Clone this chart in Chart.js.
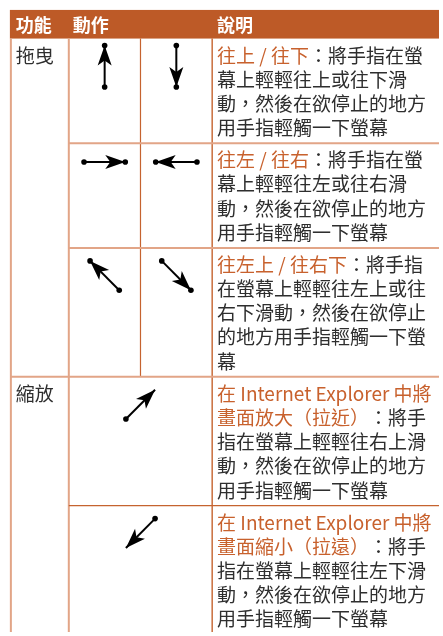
<!DOCTYPE html>
<html>
<head>
<meta charset="utf-8">
<script src="https://cdn.jsdelivr.net/npm/chart.js@4.4.1/dist/chart.umd.min.js"></script>
<style>
  html, body { margin: 0; padding: 0; background: #fff; }
  canvas { display: block; }
</style>
</head>
<body>
<canvas id="gestureTable" width="443" height="636"></canvas>
<script>
// Tiêu đề cột
const headers = ["功能", "動作", "說明"];

// Cột "功能" (gộp nhiều hàng)
const functionNames = ["拖曳", "縮放"];
const functionRowSpan = [3, 2];

// Hướng mũi tên của từng hàng (1 hoặc 2 ô)
const gestureDirs = [
  ["up", "down"],
  ["right", "left"],
  ["upLeft", "downRight"],
  ["upRight"],
  ["downLeft"],
];
const gestureDotAtTip = [true, true, true, false, false];

// Phần chữ màu cam (tiêu đề mô tả)
const titles = [
  "往上 / 往下",
  "往左 / 往右",
  "往左上 / 往右下",
  "在 Internet Explorer 中將畫面放大（拉近）",
  "在 Internet Explorer 中將畫面縮小（拉遠）",
];

// Mô tả, đã ngắt dòng như bản gốc
const descLines = [
  ["往上 / 往下：將手指在螢", "幕上輕輕往上或往下滑", "動，然後在欲停止的地方", "用手指輕觸一下螢幕"],
  ["往左 / 往右：將手指在螢", "幕上輕輕往左或往右滑", "動，然後在欲停止的地方", "用手指輕觸一下螢幕"],
  ["往左上 / 往右下：將手指", "在螢幕上輕輕往左上或往", "右下滑動，然後在欲停止", "的地方用手指輕觸一下螢", "幕"],
  ["在 Internet Explorer 中將", "畫面放大（拉近）：將手", "指在螢幕上輕輕往右上滑", "動，然後在欲停止的地方", "用手指輕觸一下螢幕"],
  ["在 Internet Explorer 中將", "畫面縮小（拉遠）：將手", "指在螢幕上輕輕往左下滑", "動，然後在欲停止的地方", "用手指輕觸一下螢幕"],
];

// ---- Bố cục ----
const W = 443, H = 636;
const colEdges = [7, 66, 139, 212, W];
const headerTop = 6, headerBottom = 35;
const lineH = 24.5;
const rowEdges = [headerBottom];
descLines.forEach((lines) => {
  rowEdges.push(rowEdges[rowEdges.length - 1] + lines.length * lineH + 8);
});

const COLORS = {
  header: "#bd5a27",
  orange: "#c8612d",
  text: "#2e2e2e",
  lineLight: "#e2a587",
  lineDark: "#c5632f",
};
const BODY_FONT = '19px "Liberation Sans Narrow", "Noto Sans CJK TC", sans-serif';
const HEAD_FONT = 'bold 18px "Noto Sans CJK TC", sans-serif';

const dirVec = {
  up: [0, -1], down: [0, 1], left: [-1, 0], right: [1, 0],
  upLeft: [-1, -1], downRight: [1, 1], upRight: [1, -1], downLeft: [-1, 1],
};
const SHAFT = 42;

// Tạo dataset cho từng mũi tên
const arrowDatasets = [];
gestureDirs.forEach((dirs, r) => {
  const top = rowEdges[r];
  dirs.forEach((d, c) => {
    let x0, x1;
    if (dirs.length === 1) { x0 = colEdges[1]; x1 = colEdges[3]; }
    else { x0 = colEdges[1 + c]; x1 = colEdges[2 + c]; }
    const [vx, vy] = dirVec[d];
    const n = Math.hypot(vx, vy);
    const ux = vx / n, uy = vy / n;
    const cx = (x0 + x1) / 2;
    const cy = top + (vy === 0 ? 19 : 28);
    arrowDatasets.push({
      type: "line",
      data: [
        { x: cx - (ux * SHAFT) / 2, y: cy - (uy * SHAFT) / 2 },
        { x: cx + (ux * SHAFT) / 2, y: cy + (uy * SHAFT) / 2 },
      ],
      showLine: true,
      borderColor: "#000",
      borderWidth: 2,
      pointRadius: [2.8, gestureDotAtTip[r] ? 2.8 : 0],
      pointBackgroundColor: "#000",
      pointBorderWidth: 0,
    });
  });
});

// Vẽ khung bảng, tiêu đề, chữ
const tablePlugin = {
  id: "tablePlugin",
  beforeDatasetsDraw(chart) {
    const { ctx, scales: { x, y } } = chart;
    const px = (v) => x.getPixelForValue(v);
    const py = (v) => y.getPixelForValue(v);
    ctx.save();
    // header
    ctx.fillStyle = COLORS.header;
    ctx.fillRect(px(6), py(headerTop), px(W) - px(6), py(headerBottom) - py(headerTop));

    const line = (xa, ya, xb, yb, color, w) => {
      ctx.strokeStyle = color;
      ctx.lineWidth = w;
      ctx.beginPath();
      ctx.moveTo(px(xa), py(ya));
      ctx.lineTo(px(xb), py(yb));
      ctx.stroke();
    };
    // đường dọc
    line(colEdges[0], headerBottom, colEdges[0], H, COLORS.lineLight, 2);
    line(colEdges[1], headerBottom, colEdges[1], H, COLORS.lineLight, 2);
    line(colEdges[2], headerBottom, colEdges[2], rowEdges[3], COLORS.lineDark, 1.2);
    line(colEdges[3], headerBottom, colEdges[3], H, COLORS.lineDark, 1.4);
    // đường ngang
    line(colEdges[1], rowEdges[1], W, rowEdges[1], COLORS.lineLight, 2);
    line(colEdges[1], rowEdges[2], W, rowEdges[2], COLORS.lineLight, 2);
    line(colEdges[0], rowEdges[3], W, rowEdges[3], COLORS.lineLight, 2);
    line(colEdges[1], rowEdges[4], W, rowEdges[4], COLORS.lineDark, 1.2);

    // chữ tiêu đề
    ctx.fillStyle = "#fff";
    ctx.font = HEAD_FONT;
    ctx.textBaseline = "middle";
    const headX = [12, 70, 217];
    headers.forEach((h, i) => ctx.fillText(h, px(headX[i]), py(21)));

    // cột chức năng
    ctx.fillStyle = COLORS.text;
    ctx.font = BODY_FONT;
    let r = 0;
    functionNames.forEach((name, i) => {
      ctx.fillText(name, px(12), py(rowEdges[r] + 17));
      r += functionRowSpan[i];
    });

    // mô tả
    descLines.forEach((lines, ri) => {
      let remain = titles[ri].length;
      lines.forEach((ln, li) => {
        const yy = py(rowEdges[ri] + 17 + li * lineH);
        const k = Math.max(0, Math.min(remain, ln.length));
        const orangePart = ln.slice(0, k);
        const rest = ln.slice(k);
        remain -= k;
        let xx = px(217);
        if (orangePart) {
          ctx.fillStyle = COLORS.orange;
          ctx.fillText(orangePart, xx, yy);
          xx += ctx.measureText(orangePart).width;
        }
        if (rest) {
          ctx.fillStyle = COLORS.text;
          ctx.fillText(rest, xx, yy);
        }
      });
    });
    ctx.restore();
  },
  afterDatasetsDraw(chart) {
    const { ctx } = chart;
    ctx.save();
    ctx.fillStyle = "#000";
    chart.data.datasets.forEach((ds, i) => {
      const pts = chart.getDatasetMeta(i).data;
      const a = pts[0], b = pts[1];
      const dx = b.x - a.x, dy = b.y - a.y;
      const n = Math.hypot(dx, dy);
      const ux = dx / n, uy = dy / n;
      const nx = -uy, ny = ux;
      const len = 20, hw = 7, notch = 5;
      ctx.beginPath();
      ctx.moveTo(b.x, b.y);
      ctx.lineTo(b.x - ux * len + nx * hw, b.y - uy * len + ny * hw);
      ctx.lineTo(b.x - ux * (len - notch), b.y - uy * (len - notch));
      ctx.lineTo(b.x - ux * len - nx * hw, b.y - uy * len - ny * hw);
      ctx.closePath();
      ctx.fill();
    });
    ctx.restore();
  },
};

new Chart(document.getElementById("gestureTable").getContext("2d"), {
  type: "scatter",
  data: { datasets: arrowDatasets },
  options: {
    responsive: false,
    animation: false,
    layout: { padding: 0 },
    plugins: { legend: { display: false }, tooltip: { enabled: false } },
    scales: {
      x: { type: "linear", min: 0, max: W, display: false },
      y: { type: "linear", min: 0, max: H, reverse: true, display: false },
    },
  },
  plugins: [tablePlugin],
});
</script>
</body>
</html>
